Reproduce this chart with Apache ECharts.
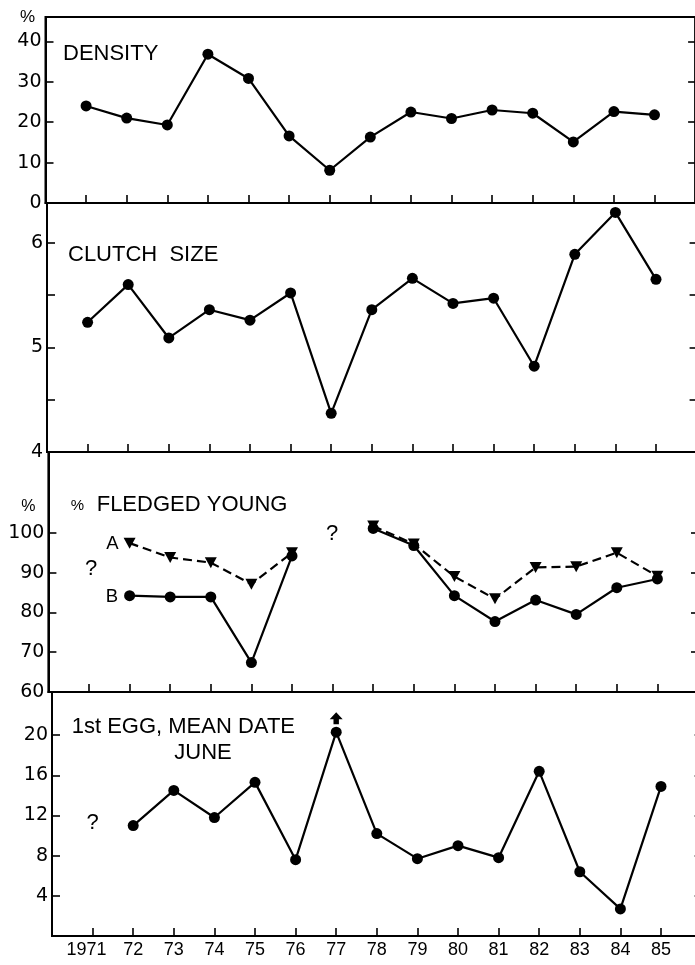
<!DOCTYPE html>
<html>
<head>
<meta charset="utf-8">
<script src="https://cdn.jsdelivr.net/npm/echarts@6/dist/echarts.min.js"></script>
<style>html,body{margin:0;padding:0;background:#fff;}#c{width:695px;height:965px;}</style>
</head>
<body>
<div id="c"></div>
<script>
const years = [1971,1972,1973,1974,1975,1976,1977,1978,1979,1980,1981,1982,1983,1984,1985];
const yearLabels = ['1971','72','73','74','75','76','77','78','79','80','81','82','83','84','85'];
const density = [24.0, 21.0, 19.3, 36.8, 30.8, 16.6, 8.1, 16.3, 22.5, 20.9, 23.0, 22.2, 15.1, 22.6, 21.8];
const clutch = [5.24, 5.60, 5.09, 5.36, 5.26, 5.52, 4.37, 5.36, 5.66, 5.42, 5.47, 4.82, 5.89, 6.29, 5.65];
const fledgedA = [null, 97.4, 93.8, 92.5, 87.1, 95.0, null, 101.7, 97.2, 89.0, 83.4, 91.3, 91.5, 95.0, 89.1];
const fledgedB = [null, 84.2, 83.9, 83.9, 67.4, 94.2, null, 101.1, 96.8, 84.2, 77.7, 83.1, 79.5, 86.2, 88.4];
const eggDate = [null, 11.0, 14.5, 11.8, 15.3, 7.6, 20.3, 10.2, 7.7, 9.0, 7.8, 16.4, 6.4, 2.7, 14.9];
const densityTicks = [0, 10, 20, 30, 40];
const clutchTicks = [4, 5, 6];
const clutchMinorTicks = [4, 4.5, 5, 5.5, 6];
const fledgedTicks = [60, 70, 80, 90, 100];
const eggTicks = [4, 8, 12, 16, 20];

const toPairs = arr => years.map((y, i) => [y, arr[i] == null ? '-' : arr[i]]);
const FONT_AX = '"DejaVu Sans", sans-serif';
const FONT_TX = '"Liberation Sans", Arial, sans-serif';
const W = 649.6;
const grids = [
  {left: 45.5, top: 17, width: W, height: 186},
  {left: 47, top: 203, width: W, height: 249},
  {left: 48.4, top: 452, width: W, height: 240},
  {left: 52, top: 692, width: W, height: 244}
].map(g => Object.assign(g, {show: true, borderColor: '#000', borderWidth: 2,
  backgroundColor: 'transparent', outerBoundsMode: 'none', containLabel: false}));

const yRanges = [
  {min: 0, max: 46, interval: 10, ticks: densityTicks, tickMarks: densityTicks},
  {min: 4, max: 6.38, interval: 0.5, ticks: clutchTicks, tickMarks: clutchMinorTicks},
  {min: 60, max: 120.3, interval: 10, ticks: fledgedTicks, tickMarks: fledgedTicks},
  {min: 0, max: 24.3, interval: 4, ticks: eggTicks, tickMarks: eggTicks}
];

const xAxes = grids.map((g, i) => ({
  type: 'value', gridIndex: i, min: 1970, max: 1986, interval: 1, position: 'bottom',
  axisLine: {show: true, onZero: false, lineStyle: {color: '#000', width: 2}},
  axisTick: {show: true, inside: true, length: 8, customValues: years, lineStyle: {color: '#000', width: 1.6}},
  splitLine: {show: false},
  axisLabel: i === 3 ? {
    show: true, margin: 5, color: '#000', fontFamily: FONT_TX, fontSize: 18,
    customValues: years,
    formatter: v => {
      const k = years.indexOf(Math.round(v));
      if (k < 0 || Math.abs(v - years[k]) > 1e-6) return '';
      return k === 0 ? '{a|' + yearLabels[k] + '}' : yearLabels[k];
    },
    rich: {a: {fontFamily: FONT_TX, fontSize: 18, color: '#000', padding: [0, 12, 0, 0]}}
  } : {show: false}
}));

const yAxes = [];
yRanges.forEach((r, i) => {
  const fmt = v => r.ticks.some(t => Math.abs(t - v) < 1e-6) ? String(Math.round(v)) : '';
  yAxes.push({
    type: 'value', gridIndex: i, min: r.min, max: r.max, interval: r.interval, position: 'left',
    axisLine: {show: true, onZero: false, lineStyle: {color: '#000', width: 2}},
    axisTick: {show: true, inside: true, length: 8, customValues: r.tickMarks, lineStyle: {color: '#000', width: 1.6}},
    splitLine: {show: false},
    axisLabel: {show: true, margin: 4, color: '#000', fontFamily: FONT_AX, fontSize: 19,
      customValues: r.ticks, formatter: fmt}
  });
  yAxes.push({
    type: 'value', gridIndex: i, min: r.min, max: r.max, interval: r.interval, position: 'right',
    axisLine: {show: false},
    axisTick: {show: true, inside: true, length: 7,
      customValues: r.tickMarks.filter(t => t > r.min), lineStyle: {color: '#000', width: 1.6}},
    splitLine: {show: false},
    axisLabel: {show: false}
  });
});

const lineBase = {
  type: 'line', symbol: 'circle', symbolSize: 11, showAllSymbol: true, connectNulls: false,
  itemStyle: {color: '#000'}, lineStyle: {color: '#000', width: 2.2}, silent: true, z: 3
};

const series = [
  Object.assign({}, lineBase, {name: 'DENSITY', xAxisIndex: 0, yAxisIndex: 0, data: toPairs(density)}),
  Object.assign({}, lineBase, {name: 'CLUTCH SIZE', xAxisIndex: 1, yAxisIndex: 2, data: toPairs(clutch)}),
  Object.assign({}, lineBase, {name: 'B', xAxisIndex: 2, yAxisIndex: 4, data: toPairs(fledgedB)}),
  Object.assign({}, lineBase, {name: 'A', xAxisIndex: 2, yAxisIndex: 4, data: toPairs(fledgedA),
    symbol: 'triangle', symbolRotate: 180, symbolSize: [12, 11],
    lineStyle: {color: '#000', width: 2.2, type: [9, 5]}}),
  Object.assign({}, lineBase, {name: '1st EGG', xAxisIndex: 3, yAxisIndex: 6, data: toPairs(eggDate),
    markPoint: {
      silent: true,
      data: [{coord: [years[6], eggDate[6]], symbol: 'path://M6,0 L12,7 L8.5,7 L8.5,12 L3.5,12 L3.5,7 L0,7 Z',
        symbolSize: [13, 12], symbolOffset: [0, -14], itemStyle: {color: '#000'}, label: {show: false}}]
    }})
];

const txt = (text, x, y, size, align, font) => ({
  type: 'text', z: 10, silent: true,
  style: {text: text, x: x, y: y, fill: '#000', font: size + 'px ' + (font || FONT_TX),
    align: align || 'left', verticalAlign: 'middle', textAlign: align || 'left', textVerticalAlign: 'middle'}
});

const graphics = [
  txt('%', 27.5, 17.5, 17, 'center'),
  txt('DENSITY', 63, 53.5, 22),
  txt('CLUTCH  SIZE', 68, 254.7, 22),
  txt('%', 28.3, 507, 16, 'center'),
  txt('%', 77.5, 506, 15, 'center'),
  txt('FLEDGED YOUNG', 96.7, 504.7, 22),
  txt('A', 112.5, 543.5, 18.5, 'center'),
  txt('B', 112, 596.7, 18.5, 'center'),
  txt('?', 91, 569, 22, 'center'),
  txt('?', 332, 534, 22, 'center'),
  txt('?', 92.5, 822.5, 22, 'center'),
  txt('1st EGG, MEAN DATE', 71.7, 727, 22),
  txt('JUNE', 203, 752.5, 22, 'center')
];

const chart = echarts.init(document.getElementById('c'), null, {renderer: 'canvas'});
chart.setOption({
  animation: false,
  backgroundColor: '#fff',
  grid: grids,
  xAxis: xAxes,
  yAxis: yAxes,
  series: series,
  graphic: graphics
});
</script>
</body>
</html>
